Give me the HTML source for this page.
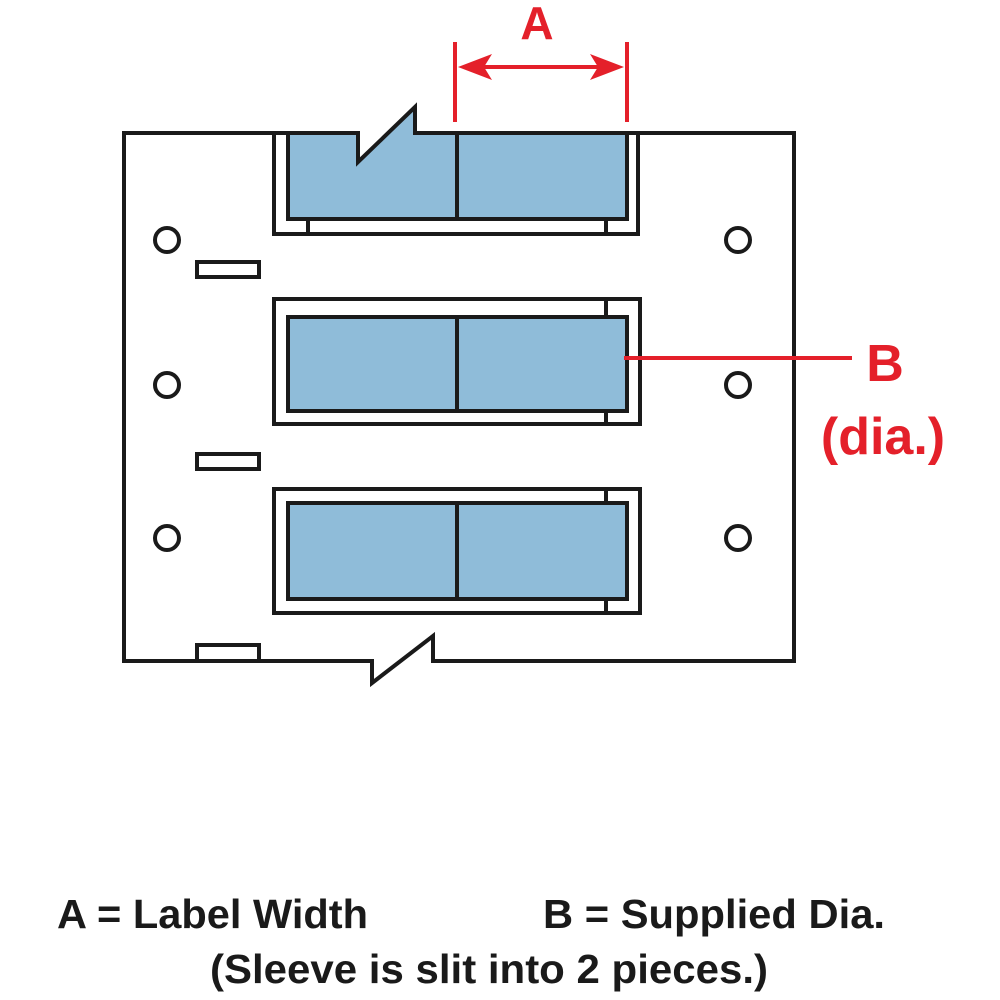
<!DOCTYPE html>
<html><head><style>body{margin:0;background:#fff}svg{display:block}</style></head><body>
<svg width="1000" height="1000" viewBox="0 0 1000 1000" xmlns="http://www.w3.org/2000/svg">
<polygon points="288,133 358,133 358,162 415,107 415,133 627,133 627,219 288,219" fill="#8fbcd9"/>
<g fill="none" stroke="#1a1a1a" stroke-width="4" stroke-linejoin="miter">
<path d="M124,133 L358,133 L358,162 L415,107 L415,133 L794,133 L794,661 L433,661 L433,636 L372,683 L372,661 L124,661 Z"/>
<!-- top sleeve -->
<path d="M274,135 L274,234 L638,234 L638,135"/>
<path d="M288,135 L288,219 L627,219 L627,135"/>
<line x1="457" y1="135" x2="457" y2="219"/>
<line x1="308" y1="219" x2="308" y2="234"/><line x1="606" y1="219" x2="606" y2="234"/>
<!-- middle -->
<rect x="274" y="299" width="366" height="125"/>
<rect x="288" y="317" width="339" height="94" fill="#8fbcd9"/>
<line x1="457" y1="317" x2="457" y2="411"/>
<line x1="606" y1="299" x2="606" y2="317"/><line x1="606" y1="411" x2="606" y2="424"/>
<!-- bottom -->
<rect x="274" y="489" width="366" height="124"/>
<rect x="288" y="503" width="339" height="96" fill="#8fbcd9"/>
<line x1="457" y1="503" x2="457" y2="599"/>
<line x1="606" y1="489" x2="606" y2="503"/><line x1="606" y1="599" x2="606" y2="613"/>
<circle cx="167" cy="240" r="12"/><circle cx="167" cy="385" r="12"/><circle cx="167" cy="538" r="12"/>
<circle cx="738" cy="240" r="12"/><circle cx="738" cy="385" r="12"/><circle cx="738" cy="538" r="12"/>
<rect x="197" y="262" width="62" height="15"/><rect x="197" y="454" width="62" height="15"/><rect x="197" y="645" width="62" height="16"/>
</g>
<g stroke="#e4202a" stroke-width="4" fill="none">
<line x1="455" y1="42" x2="455" y2="122"/><line x1="627" y1="42" x2="627" y2="122"/>
<line x1="470" y1="67" x2="612" y2="67"/>
<line x1="624" y1="358" x2="852" y2="358"/>
</g>
<polygon points="458,67 492,54 484,67 492,80" fill="#e4202a"/>
<polygon points="624,67 590,54 598,67 590,80" fill="#e4202a"/>
<g font-family="Liberation Sans, sans-serif" font-weight="bold" fill="#e4202a">
<text x="537" y="39" font-size="46" text-anchor="middle">A</text>
<text x="885" y="381" font-size="52" text-anchor="middle">B</text>
<text x="883" y="454" font-size="52" text-anchor="middle">(dia.)</text>
</g>
<g font-family="Liberation Sans, sans-serif" font-weight="bold" fill="#1a1a1a" font-size="41">
<text x="57" y="928" textLength="311" lengthAdjust="spacingAndGlyphs">A = Label Width</text>
<text x="543" y="928" textLength="342" lengthAdjust="spacingAndGlyphs">B = Supplied Dia.</text>
<text x="210" y="983" textLength="558" lengthAdjust="spacingAndGlyphs">(Sleeve is slit into 2 pieces.)</text>
</g>
</svg>
</body></html>
